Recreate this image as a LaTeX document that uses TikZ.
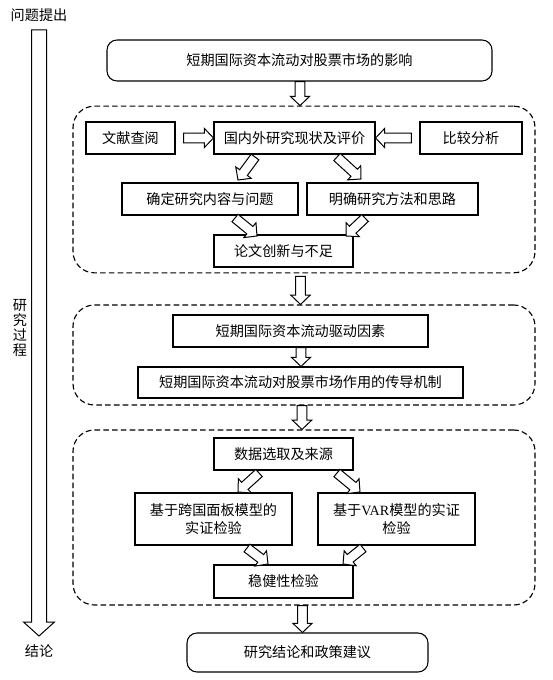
\documentclass[tikz,border=0pt]{standalone}
\usepackage{fontspec}
\setmainfont{Noto Sans CJK SC}
\newfontfamily\latinf{Liberation Serif}
\usetikzlibrary{calc}
\tikzset{
  txt/.style={font=\fontsize{10.6pt}{13.5pt}\selectfont},
  box/.style={draw, line width=0.8pt, inner sep=0pt, align=center, txt},
  rbox/.style={box, rounded corners=7.5pt},
  dashbox/.style={draw, line width=0.85pt, dash pattern=on 4.2pt off 2.4pt, rounded corners=16pt, inner sep=0pt},
  barr/.style={draw, line width=0.75pt, fill=white, line join=miter},
}
% block arrow from named coordinate #3 to #4, shaft half width #2, head length #5
\newcommand\barrow[5][barr]{%
  \coordinate (bahd) at ($(#4)!#5!(#3)$);
  \path[#1] ($(#3)!#2!90:(#4)$) -- ($(bahd)!#2!90:(#4)$) -- ($(bahd)!2*#2!90:(#4)$) -- (#4)
     -- ($(bahd)!2*#2!-90:(#4)$) -- ($(bahd)!#2!-90:(#4)$) -- ($(#3)!#2!-90:(#4)$) -- cycle;}
\newcommand\sarrow[2]{\barrow{3.6pt}{#1}{#2}{6.9pt}}
\begin{document}
\begin{tikzpicture}[x=0.75pt,y=-0.75pt]
\useasboundingbox (0,0) rectangle (552,680);
% left process arrow
\node[txt, inner sep=0pt] (wt) at (39,15) {问题提出};
\node[txt, inner sep=0pt] (jlun) at (39,651) {结论};
\node[txt, inner sep=0pt, align=center, font=\fontsize{10.6pt}{11.3pt}\selectfont] (gc) at (20,328) {研\\究\\过\\程};
\coordinate (la) at (39,30);
\coordinate (lb) at (39,636);
\coordinate (lh) at (39,622);
\path[barr] ($(la)+(-7.5,0)$) -- ($(lh)+(-7.5,0)$) -- ($(lh)+(-15.5,0)$) -- (lb)
   -- ($(lh)+(15.5,0)$) -- ($(lh)+(7.5,0)$) -- ($(la)+(7.5,0)$) -- cycle;

% dashed groups
\node[dashbox, minimum width=346.5pt, minimum height=125pt] (d1) at (304,189.5) {};
\node[dashbox, minimum width=346.5pt, minimum height=75pt] (d2) at (304,355) {};
\node[dashbox, minimum width=346.5pt, minimum height=131.25pt] (d3) at (304,517.5) {};

% boxes
\node[rbox, minimum width=288.75pt, minimum height=30.75pt] (top) at (299.5,60.5) {短期国际资本流动对股票市场的影响};
\node[box, minimum width=66.75pt, minimum height=24pt] (wx) at (130.5,138) {文献查阅};
\node[box, minimum width=120.75pt, minimum height=24pt] (gn) at (294.5,138) {国内外研究现状及评价};
\node[box, minimum width=76.5pt, minimum height=24pt] (bj) at (471,138) {比较分析};
\node[box, minimum width=132pt, minimum height=24pt] (qd) at (210,199) {确定研究内容与问题};
\node[box, minimum width=128.25pt, minimum height=24pt] (mq) at (392.5,199) {明确研究方法和思路};
\node[box, minimum width=104.25pt, minimum height=24pt] (lw) at (283.5,251) {论文创新与不足};
\node[box, minimum width=191.25pt, minimum height=24pt] (qdys) at (300.5,331) {短期国际资本流动驱动因素};
\node[box, minimum width=243.75pt, minimum height=23.25pt] (cd) at (300.5,382.5) {短期国际资本流动对股票市场作用的传导机制};
\node[box, minimum width=104.25pt, minimum height=24pt] (sj) at (283.5,454) {数据选取及来源};
\node[box, minimum width=117.75pt, minimum height=39pt] (kg) at (213.5,519) {基于跨国面板模型的\\实证检验};
\node[box, minimum width=117.75pt, minimum height=39pt] (var) at (396.5,519) {基于{\latinf VAR}模型的实证\\检验};
\node[box, minimum width=104.25pt, minimum height=24.75pt] (wj) at (283.5,581.5) {稳健性检验};
\node[rbox, minimum width=180.75pt, minimum height=29.25pt] (jl) at (307.5,652.5) {研究结论和政策建议};

% vertical arrows
\coordinate (a1) at (top.south -| 300,0);
\coordinate (b1) at (d1.north -| 300,0);
\sarrow{a1}{b1}
\coordinate (a2) at ($(d1.south -| 300.5,0)+(0,3)$);
\coordinate (b2) at (d2.north -| 300.5,0);
\sarrow{a2}{b2}
\coordinate (a3) at (qdys.south -| 301,0);
\coordinate (b3) at (cd.north -| 301,0);
\sarrow{a3}{b3}
\coordinate (a4) at (d2.south -| 302,0);
\coordinate (b4) at (d3.north -| 302,0);
\sarrow{a4}{b4}
\coordinate (a5) at (d3.south -| 302.5,0);
\coordinate (b5) at (jl.north -| 302.5,0);
\sarrow{a5}{b5}
% horizontal arrows
\coordinate (h1) at ($(wx.east)+(8,0)$);
\sarrow{h1}{gn.west}
\coordinate (h2) at ($(bj.west)+(-8,0)$);
\sarrow{h2}{gn.east}
% diagonal arrows
\coordinate (c1) at (255,157); \coordinate (e1) at (238,180);
\sarrow{c1}{e1}
\coordinate (c2) at (337,157); \coordinate (e2) at (361,179);
\sarrow{c2}{e2}
\coordinate (c3) at (235,218); \coordinate (e3) at (257,236);
\sarrow{c3}{e3}
\coordinate (c4) at (365,218); \coordinate (e4) at (346,236);
\sarrow{c4}{e4}
\coordinate (c5) at (259,473); \coordinate (e5) at (238,492);
\sarrow{c5}{e5}
\coordinate (c6) at (337,473); \coordinate (e6) at (360,492);
\sarrow{c6}{e6}
\coordinate (c7) at (247,548); \coordinate (e7) at (268,564);
\sarrow{c7}{e7}
\coordinate (c8) at (363,548); \coordinate (e8) at (343,564);
\sarrow{c8}{e8}
\end{tikzpicture}
\end{document}
